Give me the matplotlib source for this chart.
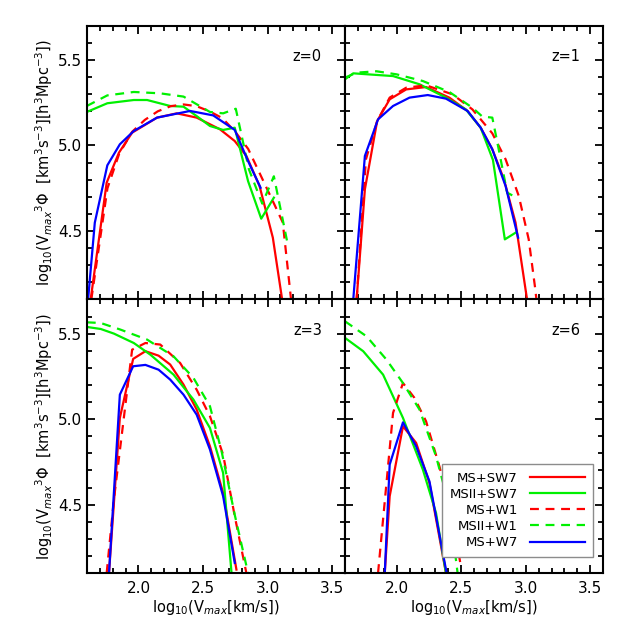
import numpy as np
import matplotlib
matplotlib.use('Agg')
import matplotlib.pyplot as plt
from matplotlib.ticker import MultipleLocator

# log10(Vmax) / log10(Vmax^3 Phi)
# z=0
z0_ms_sw7_x = [1.63, 1.754, 1.849, 1.951, 2.144, 2.297, 2.451, 2.631, 2.746, 2.836, 2.938, 3.041, 3.113]
z0_ms_sw7_y = [4.10, 4.783, 4.958, 5.075, 5.163, 5.188, 5.163, 5.095, 5.026, 4.939, 4.763, 4.461, 4.10]
z0_msii_sw7_x = [1.6, 1.759, 1.964, 2.067, 2.246, 2.349, 2.451, 2.554, 2.656, 2.746, 2.849, 2.951, 3.049]
z0_msii_sw7_y = [5.196, 5.247, 5.266, 5.266, 5.231, 5.227, 5.172, 5.114, 5.091, 5.104, 4.792, 4.572, 4.695]
z0_ms_w1_x = [1.635, 1.76, 1.85, 1.951, 2.05, 2.15, 2.25, 2.35, 2.45, 2.55, 2.65, 2.75, 2.85, 2.95, 3.05, 3.118, 3.182]
z0_ms_w1_y = [4.10, 4.75, 4.95, 5.08, 5.15, 5.20, 5.23, 5.24, 5.23, 5.20, 5.16, 5.08, 4.98, 4.82, 4.66, 4.55, 4.10]
z0_msii_w1_x = [1.6, 1.759, 1.964, 2.169, 2.349, 2.554, 2.656, 2.754, 2.856, 2.959, 3.049, 3.157]
z0_msii_w1_y = [5.231, 5.293, 5.313, 5.305, 5.286, 5.196, 5.188, 5.215, 4.86, 4.66, 4.82, 4.42]
z0_ms_w7_x = [1.61, 1.662, 1.759, 1.856, 1.964, 2.144, 2.400, 2.579, 2.746, 2.849, 2.946]
z0_ms_w7_y = [4.10, 4.549, 4.884, 5.007, 5.085, 5.163, 5.202, 5.176, 5.091, 4.909, 4.753]

# z=1
z1_ms_sw7_x = [1.69, 1.754, 1.849, 1.946, 2.074, 2.228, 2.408, 2.549, 2.651, 2.741, 2.831, 2.921, 3.010]
z1_ms_sw7_y = [4.10, 4.744, 5.143, 5.270, 5.328, 5.342, 5.280, 5.202, 5.104, 4.978, 4.802, 4.549, 4.10]
z1_msii_sw7_x = [1.6, 1.664, 1.818, 1.972, 2.177, 2.382, 2.536, 2.651, 2.746, 2.838, 2.921]
z1_msii_sw7_y = [5.387, 5.422, 5.414, 5.406, 5.358, 5.280, 5.211, 5.104, 4.915, 4.451, 4.490]
z1_ms_w1_x = [1.69, 1.762, 1.849, 1.946, 2.074, 2.228, 2.433, 2.587, 2.741, 2.844, 2.946, 3.023, 3.074, 3.09]
z1_ms_w1_y = [4.10, 4.919, 5.143, 5.280, 5.338, 5.352, 5.299, 5.211, 5.071, 4.919, 4.705, 4.451, 4.159, 4.05]
z1_msii_w1_x = [1.6, 1.69, 1.844, 2.0, 2.203, 2.408, 2.587, 2.664, 2.741, 2.79, 2.856, 2.93]
z1_msii_w1_y = [5.397, 5.426, 5.434, 5.416, 5.377, 5.313, 5.221, 5.169, 5.163, 4.98, 4.724, 4.695]
z1_ms_w7_x = [1.664, 1.754, 1.856, 1.972, 2.1, 2.241, 2.382, 2.549, 2.651, 2.741, 2.844, 2.941]
z1_ms_w7_y = [4.10, 4.939, 5.153, 5.231, 5.280, 5.295, 5.274, 5.202, 5.104, 4.978, 4.763, 4.461]

# z=3
z3_ms_sw7_x = [1.772, 1.856, 1.959, 2.054, 2.156, 2.246, 2.349, 2.451, 2.554, 2.656, 2.759]
z3_ms_sw7_y = [4.10, 5.007, 5.352, 5.397, 5.371, 5.319, 5.202, 5.056, 4.841, 4.568, 4.12]
z3_msii_sw7_x = [1.6, 1.708, 1.81, 1.964, 2.092, 2.272, 2.426, 2.554, 2.656, 2.721]
z3_msii_sw7_y = [5.539, 5.527, 5.5, 5.445, 5.377, 5.26, 5.114, 4.948, 4.685, 4.10]
z3_ms_w1_x = [1.754, 1.81, 1.951, 2.054, 2.169, 2.323, 2.451, 2.554, 2.656, 2.746, 2.836]
z3_ms_w1_y = [4.10, 4.53, 5.406, 5.445, 5.436, 5.328, 5.172, 5.017, 4.792, 4.432, 4.10]
z3_msii_w1_x = [1.6, 1.708, 1.862, 2.067, 2.272, 2.426, 2.554, 2.644, 2.746, 2.849]
z3_msii_w1_y = [5.566, 5.562, 5.523, 5.465, 5.367, 5.241, 5.075, 4.812, 4.44, 4.10]
z3_ms_w7_x = [1.772, 1.856, 1.959, 2.054, 2.156, 2.246, 2.349, 2.451, 2.554, 2.656, 2.746]
z3_ms_w7_y = [4.10, 5.143, 5.309, 5.317, 5.289, 5.231, 5.143, 5.026, 4.822, 4.549, 4.159]

# z=6
z6_ms_sw7_x = [1.908, 1.946, 2.049, 2.151, 2.254, 2.382]
z6_ms_sw7_y = [4.10, 4.549, 4.958, 4.861, 4.627, 4.10]
z6_msii_sw7_x = [1.6, 1.741, 1.895, 2.049, 2.203, 2.305, 2.382]
z6_msii_sw7_y = [5.475, 5.397, 5.26, 5.007, 4.705, 4.451, 4.10]
z6_ms_w1_x = [1.856, 1.972, 2.049, 2.138, 2.228, 2.331, 2.433, 2.497]
z6_ms_w1_y = [4.10, 5.036, 5.211, 5.124, 4.987, 4.724, 4.432, 4.14]
z6_msii_w1_x = [1.6, 1.767, 1.921, 2.049, 2.177, 2.305, 2.408, 2.472]
z6_msii_w1_y = [5.572, 5.484, 5.348, 5.211, 5.056, 4.783, 4.49, 4.10]
z6_ms_w7_x = [1.908, 1.946, 2.049, 2.151, 2.254, 2.387]
z6_ms_w7_y = [4.10, 4.734, 4.981, 4.841, 4.636, 4.10]

labels = ['MS+SW7', 'MSII+SW7', 'MS+W1', 'MSII+W1', 'MS+W7']
colors = ['#ff0000', '#00f000', '#ff0000', '#00f000', '#0000ff']
styles = ['-', '-', (0, (4, 3)), (0, (4, 3)), '-']
redshifts = ['z=0', 'z=1', 'z=3', 'z=6']

panels = [
    [(z0_ms_sw7_x, z0_ms_sw7_y), (z0_msii_sw7_x, z0_msii_sw7_y), (z0_ms_w1_x, z0_ms_w1_y),
     (z0_msii_w1_x, z0_msii_w1_y), (z0_ms_w7_x, z0_ms_w7_y)],
    [(z1_ms_sw7_x, z1_ms_sw7_y), (z1_msii_sw7_x, z1_msii_sw7_y), (z1_ms_w1_x, z1_ms_w1_y),
     (z1_msii_w1_x, z1_msii_w1_y), (z1_ms_w7_x, z1_ms_w7_y)],
    [(z3_ms_sw7_x, z3_ms_sw7_y), (z3_msii_sw7_x, z3_msii_sw7_y), (z3_ms_w1_x, z3_ms_w1_y),
     (z3_msii_w1_x, z3_msii_w1_y), (z3_ms_w7_x, z3_ms_w7_y)],
    [(z6_ms_sw7_x, z6_ms_sw7_y), (z6_msii_sw7_x, z6_msii_sw7_y), (z6_ms_w1_x, z6_ms_w1_y),
     (z6_msii_w1_x, z6_msii_w1_y), (z6_ms_w7_x, z6_ms_w7_y)],
]

#%% Plot
fig, axes = plt.subplots(2, 2, figsize=(6.29, 6.29), dpi=100, sharex=True, sharey=True)
fig.subplots_adjust(left=0.138, right=0.959, top=0.959, bottom=0.089, wspace=0, hspace=0)

ylab = r'log$_{10}$(V$_{max}$$^3\Phi$  [km$^3$s$^{-3}$][h$^3$Mpc$^{-3}$])'
xlab = r'log$_{10}$(V$_{max}$[km/s])'

for i, ax in enumerate(axes.flat):
    for (x, y), lab, c, ls in zip(panels[i], labels, colors, styles):
        ax.plot(x, y, color=c, ls=ls, lw=1.6, label=lab)
    ax.set_xlim(1.6, 3.6)
    ax.set_ylim(4.1, 5.7)
    ax.xaxis.set_major_locator(MultipleLocator(0.5))
    ax.xaxis.set_minor_locator(MultipleLocator(0.1))
    ax.yaxis.set_major_locator(MultipleLocator(0.5))
    ax.yaxis.set_minor_locator(MultipleLocator(0.1))
    ax.tick_params(which='both', direction='in', top=True, right=True, width=1.3, labelsize=11)
    ax.tick_params(which='major', length=6)
    ax.tick_params(which='minor', length=3.5)
    ax.tick_params(axis='x', pad=6)
    for s in ax.spines.values():
        s.set_linewidth(1.5)
    ax.text(3.42, 5.52, redshifts[i], ha='right', va='center', fontsize=10.5)
    if i % 2 == 0:
        ax.set_ylabel(ylab, fontsize=10.5, labelpad=2)
    if i >= 2:
        ax.set_xlabel(xlab, fontsize=10.5, labelpad=1)
        ax.set_xticks([2.0, 2.5, 3.0, 3.5])

leg = axes[1, 1].legend(loc='lower right', bbox_to_anchor=(0.961, 0.058), borderaxespad=0,
                        markerfirst=False, fancybox=False, fontsize=9.5, handlelength=4.2,
                        handletextpad=0.9, borderpad=0.6, labelspacing=0.24,
                        edgecolor='0.55', framealpha=1)
for t in leg.get_texts():
    t.set_ha('right')

plt.savefig('out.png')
